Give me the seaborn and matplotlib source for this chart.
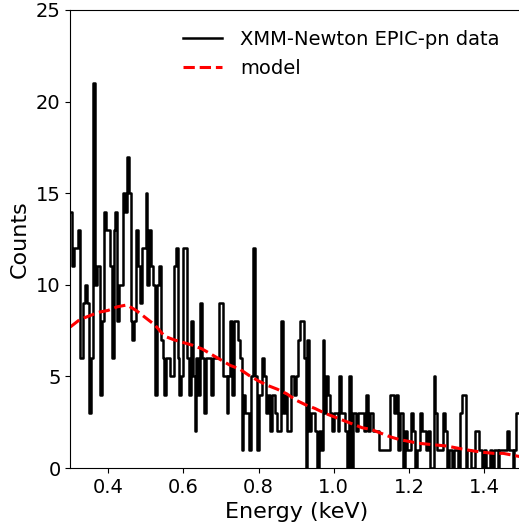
import numpy as np
import pandas as pd
import matplotlib
matplotlib.use('Agg')
import matplotlib.pyplot as plt
import seaborn as sns

# spectrum: counts per 5 eV channel from 0.300 keV upwards
e_start = 0.300
e_step = 0.005
counts = [
    14, 11, 12, 12, 13, 6, 6, 9, 10, 9, 3, 6, 21, 10, 11, 11, 4, 8, 14, 13,
    13, 11, 6, 13, 14, 8, 10, 10, 15, 14, 17, 15, 8, 7, 8, 13, 11, 9, 12, 12,
    15, 10, 13, 11, 10, 4, 10, 11, 7, 6, 4, 6, 6, 5, 5, 11, 12, 6, 4, 5,
    12, 12, 6, 4, 8, 5, 2, 6, 4, 9, 6, 3, 6, 6, 6, 4, 6, 6, 6, 9,
    9, 5, 5, 3, 5, 8, 4, 8, 8, 7, 6, 1, 4, 3, 3, 1, 5, 12, 5, 1,
    4, 4, 6, 5, 3, 4, 2, 4, 4, 3, 2, 2, 8, 3, 4, 2, 2, 5, 5, 4,
    5, 7, 8, 8, 6, 0, 7, 2, 3, 3, 2, 0, 2, 1, 7, 3, 5, 4, 3, 2,
    3, 3, 2, 5, 3, 3, 2, 0, 5, 0, 3, 3, 2, 3, 3, 3, 2, 4, 2, 3,
    3, 2, 2, 2, 1, 1, 1, 1, 1, 1, 4, 4, 3, 4, 1, 3, 3, 0, 2, 1,
    1, 3, 2, 0, 1, 1, 3, 2, 2, 1, 2, 0, 0, 5, 3, 1, 1, 1, 3, 2,
    0, 1, 1, 0, 1, 1, 0, 3, 4, 4, 0, 1, 1, 0, 0, 2, 2, 1, 1, 0,
    1, 0, 0, 1, 0, 1, 1, 0, 1, 1, 1, 1, 2, 1, 1, 0, 1, 3, 3, 3,
]

# model curve
model_energy = [0.300, 0.325, 0.350, 0.375, 0.400, 0.425, 0.450, 0.475, 0.500,
                0.525, 0.550, 0.575, 0.600, 0.625, 0.650, 0.675, 0.700, 0.725,
                0.750, 0.775, 0.800, 0.825, 0.850, 0.875, 0.900, 0.925, 0.950,
                0.975, 1.000, 1.025, 1.050, 1.075, 1.100, 1.125, 1.150, 1.175,
                1.200, 1.225, 1.250, 1.275, 1.300, 1.325, 1.350, 1.375, 1.400,
                1.425, 1.450, 1.475, 1.500]
model_counts = [7.7, 8.1, 8.3, 8.5, 8.6, 8.8, 8.9, 8.6, 8.2,
                7.8, 7.2, 7.0, 6.85, 6.7, 6.5, 6.2, 5.9, 5.6,
                5.4, 5.05, 4.75, 4.5, 4.3, 4.05, 3.7, 3.45, 3.25,
                3.0, 2.8, 2.6, 2.4, 2.2, 2.1, 1.9, 1.7, 1.55,
                1.45, 1.35, 1.3, 1.25, 1.2, 1.1, 1.0, 0.92, 0.85,
                0.8, 0.8, 0.7, 0.6]

edges = e_start + e_step * np.arange(len(counts) + 1)
df = pd.DataFrame({'energy': edges, 'counts': counts + [counts[-1]]})
mdf = pd.DataFrame({'energy': model_energy, 'counts': model_counts})

fig = plt.figure(figsize=(5.19, 5.29), dpi=100)
ax = fig.add_axes([0.1355, 0.1153, 0.8703, 0.8658])

sns.lineplot(data=df, x='energy', y='counts', drawstyle='steps-post', color='black',
             lw=1.8, label='XMM-Newton EPIC-pn data', errorbar=None, ax=ax)
sns.lineplot(data=mdf, x='energy', y='counts', color='red', lw=2.2, linestyle='--',
             label='model', errorbar=None, ax=ax)

ax.set_xlim(0.3, 1.5)
ax.set_ylim(0, 25)
ax.set_yticks([0, 5, 10, 15, 20, 25])
ax.set_xticks([0.4, 0.6, 0.8, 1.0, 1.2, 1.4])
ax.tick_params(labelsize=14)
ax.set_xlabel('Energy (keV)', fontsize=16)
ax.set_ylabel('Counts', fontsize=16)
ax.legend(loc='upper right', frameon=False, fontsize=14, handletextpad=0.95,
          bbox_to_anchor=(0.99, 0.995))

fig.savefig('out.png', dpi=100)
